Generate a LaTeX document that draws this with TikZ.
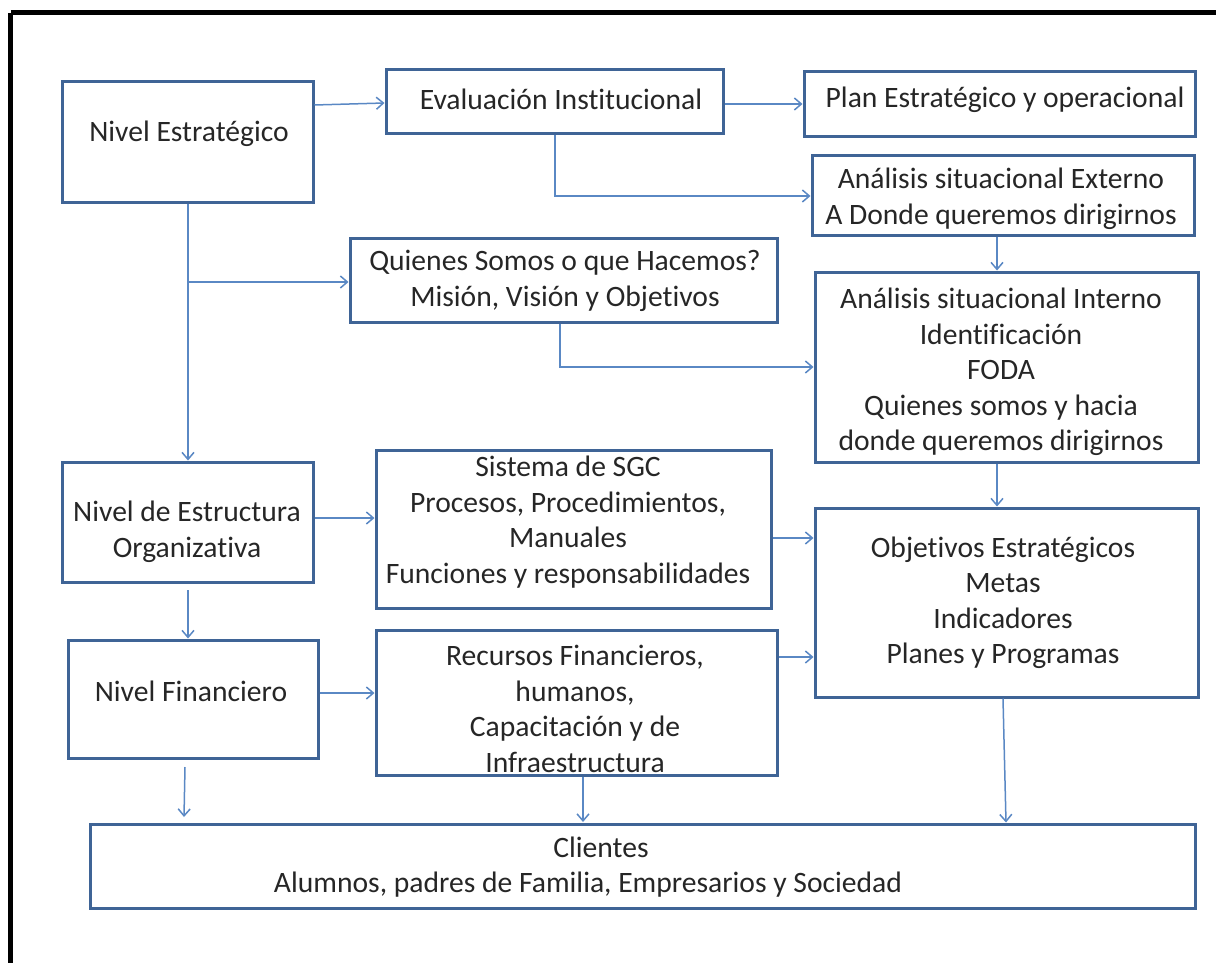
\documentclass[tikz,border=0pt]{standalone}
\usepackage{fontspec}
\setmainfont{Carlito}[Ligatures=NoCommon]
\usetikzlibrary{arrows.meta}
\definecolor{boxcol}{HTML}{3F6496}
\definecolor{arrcol}{HTML}{5A88C4}
\begin{document}
\begin{tikzpicture}[x=1pt,y=-1pt,
  box/.style={draw=boxcol,line width=3pt,rectangle,inner sep=0pt},
  txt/.style={align=center,font=\fontsize{29.6}{35.5}\selectfont,inner sep=0pt,text=black!85},
  arr/.style={draw=arrcol,line width=1.5pt,-{Straight Barb[length=7pt,width=12pt,line width=1.5pt]}},
  lin/.style={draw=arrcol,line width=1.5pt}]
\useasboundingbox (0,0) rectangle (1216,963);
\begin{scope}
\clip (0,0) rectangle (1216,963);
\draw[black,line width=5pt] (10.5,13) -- (1230,13);
\draw[black,line width=5pt] (10.5,13) -- (10.5,980);
\end{scope}
% boxes
\node[box,minimum width=251pt,minimum height=120pt] (ne) at (187.5,142) {};
\node[box,minimum width=337pt,minimum height=64pt] (ei) at (554.5,102) {};
\node[box,minimum width=391pt,minimum height=65pt] (pe) at (999.5,104.5) {};
\node[box,minimum width=382pt,minimum height=79pt] (ae) at (1003,195.5) {};
\node[box,minimum width=427pt,minimum height=84pt] (qs) at (563.5,280) {};
\node[box,minimum width=383pt,minimum height=190pt] (ai) at (1006.5,367) {};
\node[box,minimum width=251pt,minimum height=120pt] (eo) at (187.5,522) {};
\node[box,minimum width=395pt,minimum height=158pt] (sg) at (573.5,529) {};
\node[box,minimum width=383pt,minimum height=189pt] (oe) at (1006.5,602.5) {};
\node[box,minimum width=250pt,minimum height=118pt] (nf) at (193,699) {};
\node[box,minimum width=401pt,minimum height=145pt] (rf) at (576.5,702.5) {};
\node[box,minimum width=1105pt,minimum height=84pt] (cl) at (642.5,866) {};
% texts
\node[txt] at (189,134) {Nivel Estratégico};
\node[txt] at (561,99) {Evaluación Institucional};
\node[txt] at (1005,100) {Plan Estratégico y operacional};
\node[txt] at (1001,199) {Análisis situacional Externo\\A Donde queremos dirigirnos};
\node[txt] at (565,281) {Quienes Somos o que Hacemos?\\Misión, Visión y Objetivos};
\node[txt] at (1001,372) {Análisis situacional Interno\\Identificación\\FODA\\Quienes somos y hacia\\donde queremos dirigirnos};
\node[txt] at (187,532) {Nivel de Estructura\\Organizativa};
\node[txt] at (568,522) {Sistema de SGC\\Procesos, Procedimientos,\\Manuales\\Funciones y responsabilidades};
\node[txt] at (1003,603) {Objetivos Estratégicos\\Metas\\Indicadores\\Planes y Programas};
\node[txt] at (191,691) {Nivel Financiero};
\node[txt] at (575,709) {Recursos Financieros,\\humanos,\\Capacitación y de\\Infraestructura};
\node[txt] at (588,867) {\hspace*{26pt}Clientes\\Alumnos, padres de Familia, Empresarios y Sociedad};
% connectors
\draw[arr] (ne.east |- 0,105) -- (ei.west |- 0,103);
\draw[arr] (ei.east |- 0,104) -- (pe.west |- 0,104);
\draw[arr] (ei.south -| 555,0) -- (555,196) -- (ae.west |- 0,196);
\draw[arr] (ne.south -| 188,0) -- (eo.north -| 188,0);
\coordinate (br) at (188,282);
\draw[arr] (br) -- (qs.west |- br);
\draw[arr] (ae.south -| 997,0) -- (ai.north -| 997,0);
\draw[arr] (qs.south -| 560,0) -- (560,367) -- (ai.west |- 0,367);
\draw[arr] (ai.south -| 997,0) -- (oe.north -| 997,0);
\draw[arr] (eo.east |- 0,518) -- (sg.west |- 0,518);
\draw[arr] (sg.east |- 0,538) -- (oe.west |- 0,538);
\draw[arr] (rf.east |- 0,657) -- (oe.west |- 0,657);
\coordinate (a1) at (188,590);
\draw[arr] (a1) -- (nf.north -| 188,0);
\draw[arr] (nf.east |- 0,693) -- (rf.west |- 0,693);
\coordinate (a2) at (185,767);
\coordinate (a3) at (184,817);
\draw[arr] (a2) -- (a3);
\draw[arr] (rf.south -| 583,0) -- (583,822);
\draw[arr] (oe.south -| 1003,0) -- (cl.north -| 1006,0);
\end{tikzpicture}
\end{document}
